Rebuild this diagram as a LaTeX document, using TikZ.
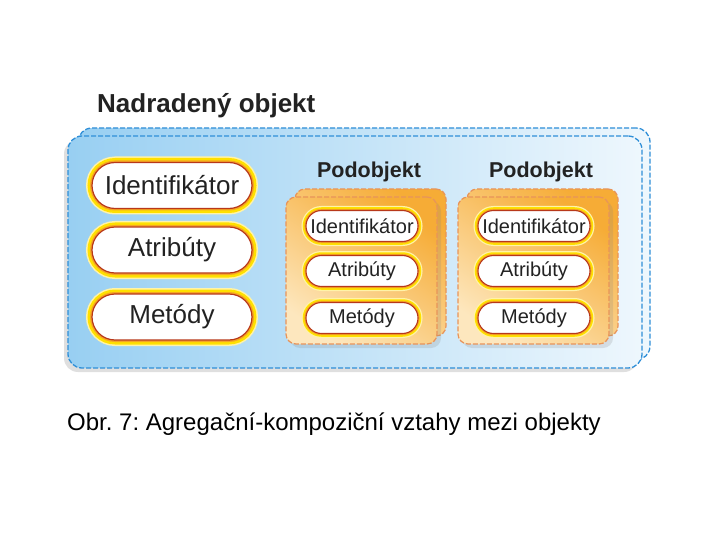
\documentclass[tikz,border=0pt]{standalone}
\usepackage{fontspec}
\setmainfont{Liberation Sans}
\frenchspacing
\usetikzlibrary{shapes.misc,shadows}
\definecolor{bluedash}{HTML}{2F8FD8}
\definecolor{blueL}{HTML}{98CFF2}
\definecolor{blueR}{HTML}{EEF7FD}
\definecolor{orgdash}{HTML}{E8945A}
\definecolor{orgA}{HTML}{F6AC36}
\definecolor{orgB}{HTML}{FDE7BE}
\definecolor{pillred}{HTML}{B8381A}
\definecolor{glowP}{HTML}{FFF3A8}
\definecolor{glowY}{HTML}{FFE000}
\definecolor{glowO}{HTML}{F5A623}
\definecolor{txt}{HTML}{222222}
\tikzset{
  bluebox/.style={rectangle, rounded corners=14pt, draw=bluedash, dash pattern=on 5pt off 2pt, line width=1.3pt,
    left color=blueL, right color=blueR, inner sep=0pt},
  orgbox/.style={rectangle, rounded corners=10pt, draw=orgdash, dash pattern=on 5pt off 2pt, line width=1.2pt,
    top color=orgA, bottom color=orgB, shading angle=-35, inner sep=0pt, minimum width=151pt, minimum height=147pt},
  bigpill/.style={rounded rectangle, draw=pillred, line width=1.2pt, fill=white, inner sep=0pt,
    minimum width=160pt, minimum height=46pt, text=txt, font=\fontsize{26}{28}\selectfont,
    preaction={draw=glowP, line width=12pt}, preaction={draw=glowY, line width=9pt},
    preaction={draw=glowO, line width=4pt}},
  smallpill/.style={rounded rectangle, draw=pillred, line width=1.1pt, fill=white, inner sep=0pt,
    minimum width=112pt, minimum height=31pt, text=txt, font=\fontsize{20}{23}\selectfont,
    preaction={draw=glowP, line width=9pt}, preaction={draw=glowY, line width=6.5pt},
    preaction={draw=glowO, line width=3.2pt}},
  lbl/.style={text=txt, font=\bfseries\fontsize{21.5}{24}\selectfont, inner sep=0pt}
}
\begin{document}
\begin{tikzpicture}[x=1pt,y=-1pt]
\useasboundingbox[fill=white] (0,0) rectangle (720,540);
% outer object
\node[text=txt, font=\bfseries\fontsize{26}{30}\selectfont, anchor=west, inner sep=0pt] (title) at (97,106) {Nadradený objekt};
\node[bluebox, minimum width=572pt, minimum height=232pt] (bback) at (364,244) {};
\node[bluebox, minimum width=574pt, minimum height=232pt,
      drop shadow={shadow xshift=-4pt, shadow yshift=-4pt, opacity=0.25}] (bfront) at (355,252) {};
% left pills
\node[bigpill] (id) at (172,185.5) {Identifikátor};
\node[bigpill] (at) at (172,250) {Atribúty};
\node[bigpill] (me) at (172,317) {Metódy};
% subobject 1
\node[lbl] (p1) at (369,172) {Podobjekt};
\node[orgbox] (o1b) at (370.5,262.5) {};
\node[orgbox, drop shadow={shadow xshift=4pt, shadow yshift=-4pt, opacity=0.2}] (o1f) at (361.5,270.5) {};
\node[smallpill] (id1) at (362,226) {Identifikátor};
\node[smallpill] (at1) at (362,271) {Atribúty};
\node[smallpill] (me1) at (362,318) {Metódy};
% subobject 2
\node[lbl] (p2) at (541,172) {Podobjekt};
\node[orgbox] (o2b) at (542.5,262.5) {};
\node[orgbox, drop shadow={shadow xshift=4pt, shadow yshift=-4pt, opacity=0.2}] (o2f) at (533.5,270.5) {};
\node[smallpill] (id2) at (534,226) {Identifikátor};
\node[smallpill] (at2) at (534,271) {Atribúty};
\node[smallpill] (me2) at (534,318) {Metódy};
% caption
\node[anchor=base west, inner sep=0pt, font=\fontsize{24}{28}\selectfont] (cap) at (67,430) {Obr. 7: Agregační-kompoziční vztahy mezi objekty};
\end{tikzpicture}
\end{document}
